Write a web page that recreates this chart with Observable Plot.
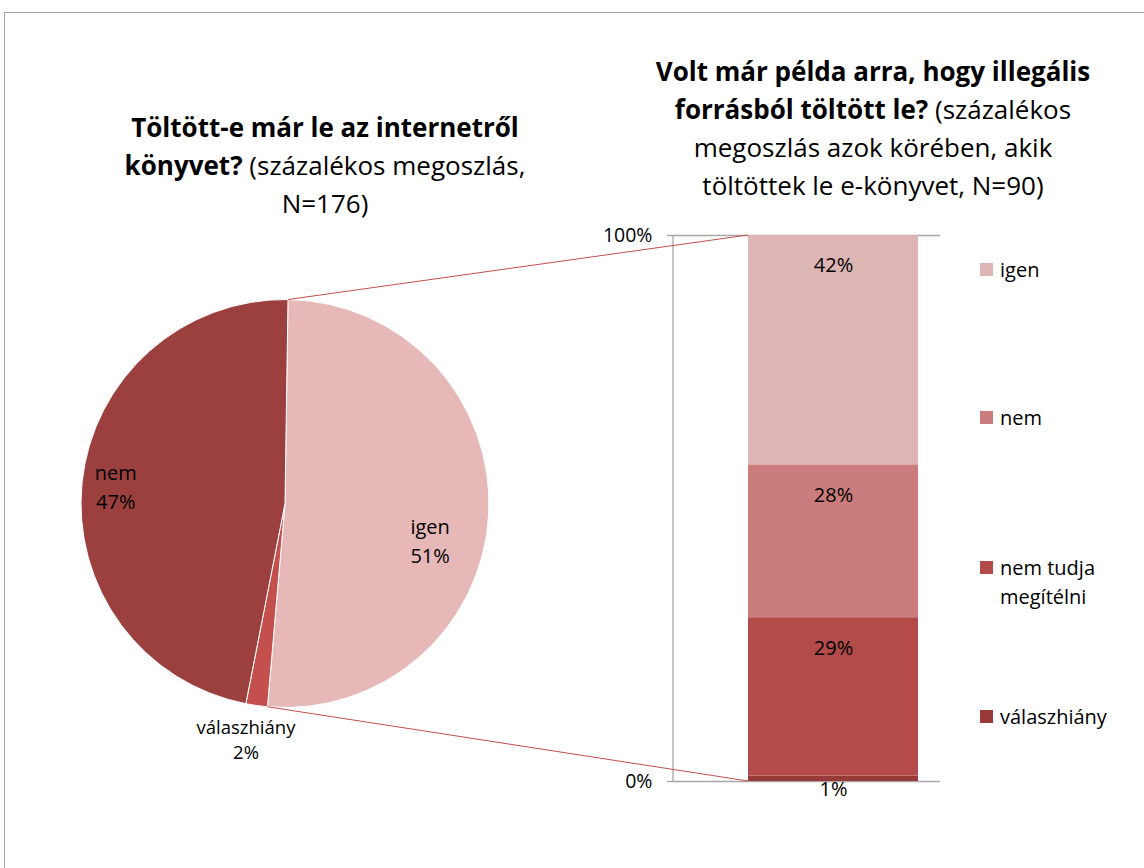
<!DOCTYPE html>
<html><head><meta charset="utf-8">
<script src="https://cdn.jsdelivr.net/npm/d3@7"></script>
<script src="https://cdn.jsdelivr.net/npm/@observablehq/plot@0.6"></script>
<style>
body{margin:0;overflow:hidden;background:#fff;font-family:"Open Sans",Lato,sans-serif;color:#000}
#wrap{position:relative;width:1144px;height:868px;overflow:hidden}
#border{position:absolute;left:4px;top:12px;width:1200px;height:900px;border:1.5px solid #a6a6a6;box-sizing:border-box}
#chart{position:absolute;left:0;top:0}
.title{position:absolute;text-align:center;font-size:26px;line-height:38px;white-space:nowrap;transform:translateX(-50%)}
.title b{font-weight:700}
.leg{position:absolute;left:980px;font-size:20px;line-height:29px}
.leg span.sw{position:absolute;left:0;top:8px;width:13px;height:13px}
.leg span.tx{display:block;margin-left:20px;white-space:nowrap}
</style></head>
<body><div id="wrap"><div id="border"></div><div id="chart"></div>
<div class="title" style="left:325px;top:108px"><b>Töltött-e már le az internetről</b><br><b>könyvet?</b> (százalékos megoszlás,<br>N=176)</div>
<div class="title" style="left:873px;top:52px"><b>Volt már példa arra, hogy illegális</b><br><b>forrásból töltött le?</b> (százalékos<br>megoszlás azok körében, akik<br>töltöttek le e-könyvet, N=90)</div>
<div id="legend"></div>
</div>
<script>
// Pie: counts (N=176), shown as rounded percentages
const pieCategories = ["igen", "válaszhiány", "nem"];
const pieCounts = [90, 3, 83];
const pieColors = ["#E6B9B8", "#C4504E", "#9B403E"];

// Stacked bar (bottom to top), percent
const barCategories = ["válaszhiány", "nem tudja megítélni", "nem", "igen"];
const barValues = [1, 29, 28, 42];
const barColors = ["#973A38", "#B24B49", "#CA7D7C", "#DDB5B5"];

const yTicks = [0, 100];

const pieData = pieCategories.map((c, i) => ({category: c, count: pieCounts[i], color: pieColors[i]}));
const pieTotal = d3.sum(pieCounts);
const barData = barCategories.map((c, i) => ({x: "bar", category: c, value: barValues[i]}));

const FONT = "'Open Sans', Lato, sans-serif";
const deg = Math.PI / 180;
const cx = 285, cy = 503.5, R = 204, startA = 0.84 * deg;
const insetL = 75, insetR = 22;
const labelLayout = {
  "igen": {r: 150, da: 11.8, size: 20},
  "válaszhiány": {r: 240, da: 1.35, size: 18.5},
  "nem": {r: 170, da: -0.6, size: 20}
};

function pieMark(index, scales) {
  const g = d3.create("svg:g");
  const arcs = d3.pie().sort(null).value(d => d.count)
    .startAngle(startA).endAngle(startA + 2 * Math.PI)(pieData);
  const arc = d3.arc().innerRadius(0).outerRadius(R);
  const pg = g.append("g").attr("transform", `translate(${cx},${cy})`);
  pg.selectAll("path").data(arcs).join("path")
    .attr("d", arc).attr("fill", d => d.data.color)
    .attr("stroke", "#fff").attr("stroke-width", 1);
  // connectors from the "igen" slice to the bar
  const ig = arcs[0];
  const pt = a => [cx + R * Math.sin(a), cy - R * Math.cos(a)];
  const [ax, ay] = pt(ig.startAngle), [bx, by] = pt(ig.endAngle);
  const barLeft = scales.x("bar") + insetL;
  g.append("line").attr("x1", ax).attr("y1", ay).attr("x2", barLeft).attr("y2", scales.y(100))
    .attr("stroke", "#C0504D").attr("stroke-width", 1);
  g.append("line").attr("x1", bx).attr("y1", by).attr("x2", barLeft).attr("y2", scales.y(0))
    .attr("stroke", "#C0504D").attr("stroke-width", 1);
  // labels
  for (const a of arcs) {
    const L = labelLayout[a.data.category];
    const ang = (a.startAngle + a.endAngle) / 2 + L.da * deg;
    const x = cx + L.r * Math.sin(ang), y = cy - L.r * Math.cos(ang);
    const t = g.append("text").attr("x", x).attr("y", y)
      .attr("text-anchor", "middle").attr("font-size", L.size)
      .attr("font-family", FONT).attr("fill", "#000");
    const lh = L.size > 19 ? 29 : 25;
    t.append("tspan").attr("x", x).attr("dy", -lh / 2 + L.size * 0.35).text(a.data.category);
    t.append("tspan").attr("x", x).attr("dy", lh).text(Math.round(a.data.count / pieTotal * 100) + "%");
  }
  return g.node();
}

const chart = Plot.plot({
  width: 1144, height: 868,
  marginLeft: 673, marginRight: 204, marginTop: 235, marginBottom: 87,
  style: {fontFamily: FONT, background: "transparent", overflow: "visible"},
  x: {type: "band", domain: ["bar"], padding: 0, axis: null},
  y: {domain: [0, 100], axis: null},
  color: {domain: barCategories, range: barColors},
  marks: [
    Plot.ruleY(yTicks, {stroke: "#a6a6a6", strokeWidth: 1.3}),
    Plot.axisY({ticks: yTicks, tickFormat: d => d + "%", tickSize: 6, tickPadding: 15, fontSize: 19.5, label: null, stroke: "#a6a6a6", strokeWidth: 1.3, color: "#000"}),
    Plot.barY(barData, Plot.stackY({x: "x", y: "value", fill: "category", insetLeft: insetL, insetRight: insetR})),
    Plot.text(barData, Plot.stackY2({x: "x", y: "value", text: d => d.value + "%", filter: d => d.value >= 5, dy: 25, dx: (insetL - insetR) / 2, fontSize: 20, fill: "#000"})),
    Plot.text(barData, Plot.stackY2({x: "x", y: "value", text: d => d.value + "%", filter: d => d.value < 5, dy: 14, dx: (insetL - insetR) / 2, fontSize: 20, fill: "#000"})),
    pieMark
  ]
});
document.getElementById("chart").appendChild(chart);
// vertical axis line at the left of the frame
const svg = d3.select(chart);
const yS = chart.scale("y");
svg.insert("line", ":first-child").attr("x1", 673).attr("x2", 673)
  .attr("y1", yS.apply(100)).attr("y2", yS.apply(0))
  .attr("stroke", "#a6a6a6").attr("stroke-width", 1.3);

// Legend (top to bottom)
const legendTop = [255, 403, 553, 702];
const legendItems = barCategories.slice().reverse();
const legendColors = barColors.slice().reverse();
const legendLabels = {"nem tudja megítélni": "nem tudja<br>megítélni"};
const lg = document.getElementById("legend");
legendItems.forEach((c, i) => {
  const d = document.createElement("div");
  d.className = "leg";
  d.style.top = legendTop[i] + "px";
  d.innerHTML = `<span class="sw" style="background:${legendColors[i]}"></span><span class="tx">${legendLabels[c] || c}</span>`;
  lg.appendChild(d);
});
</script>
</body></html>
